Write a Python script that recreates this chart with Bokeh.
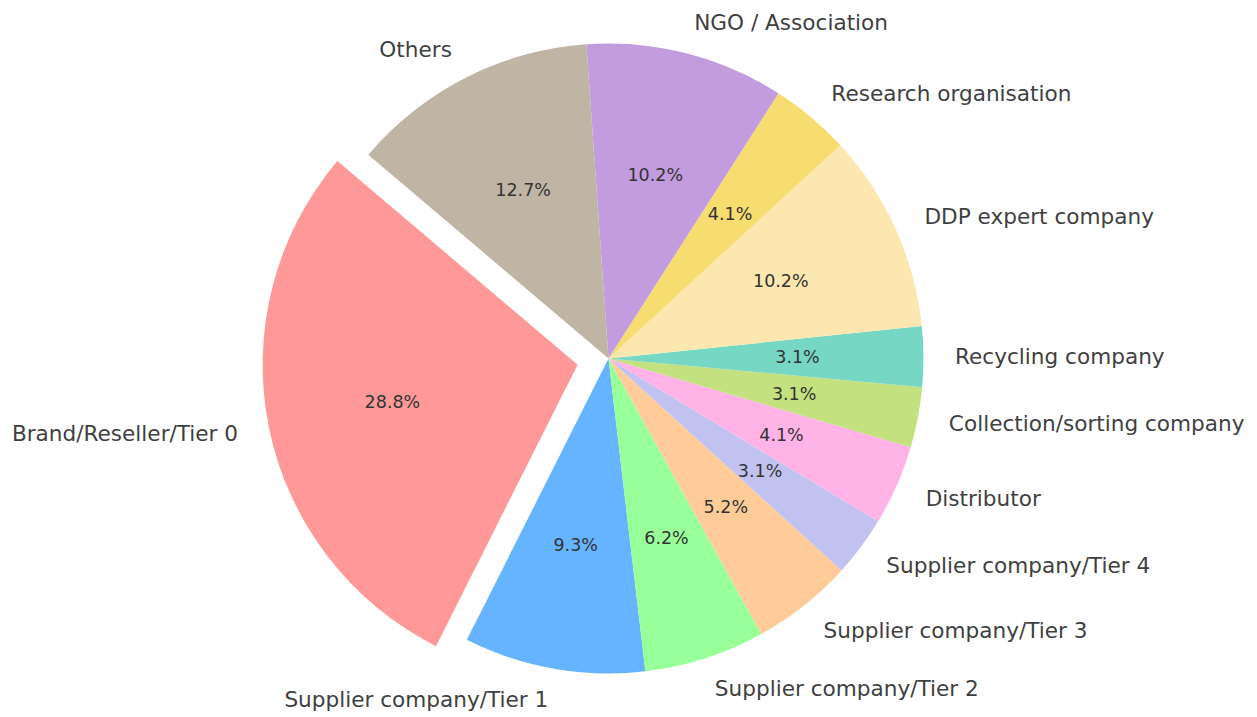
import math
from bokeh.plotting import figure
from bokeh.models import ColumnDataSource, Range1d
from bokeh.core.properties import value
from bokeh.embed import file_html
from bokeh.resources import INLINE

categories = [
    "Brand/Reseller/Tier 0",
    "Supplier company/Tier 1",
    "Supplier company/Tier 2",
    "Supplier company/Tier 3",
    "Supplier company/Tier 4",
    "Distributor",
    "Collection/sorting company",
    "Recycling company",
    "DDP expert company",
    "Research organisation",
    "NGO / Association",
    "Others",
]
shares = [28.8, 9.3, 6.2, 5.2, 3.1, 4.1, 3.1, 3.1, 10.2, 4.1, 10.2, 12.7]
explode = [0.1, 0, 0, 0, 0, 0, 0, 0, 0, 0, 0, 0]
colors = ["#ff9999", "#66b3ff", "#99ff99", "#ffcc99", "#c2c2f0", "#ffb3e6",
          "#c4e17f", "#76d7c4", "#fde7b0", "#f7dc6f", "#c39bdf", "#c0b4a4"]

START_DEG = 139.7
W, H = 1257, 717
SCALE = 315.0   # px per radius unit
CX, CY = 608.0, 358.0  # centre in figure px

total = sum(shares)
cx, cy, sa, ea = [], [], [], []
lx, ly, la, px, py = [], [], [], [], []
ang = math.radians(START_DEG)
for s, e in zip(shares, explode):
    span = 2 * math.pi * s / total
    mid = ang + span / 2
    ox, oy = e * math.cos(mid), e * math.sin(mid)
    cx.append(ox); cy.append(oy)
    sa.append(ang); ea.append(ang + span)
    lx.append(ox + 1.1 * math.cos(mid)); ly.append(oy + 1.1 * math.sin(mid))
    la.append("left" if math.cos(mid) > 0 else "right")
    px.append(ox + 0.6 * math.cos(mid)); py.append(oy + 0.6 * math.sin(mid))
    ang += span

pct_text = [f"{s:.1f}%" for s in shares]

src = ColumnDataSource(dict(x=cx, y=cy, sa=sa, ea=ea, color=colors,
                            lx=lx, ly=ly, la=la, label=categories,
                            px=px, py=py, pct=pct_text))

p = figure(width=W, height=H, output_backend="svg", toolbar_location=None,
           x_axis_location=None, y_axis_location=None, min_border=0,
           x_range=Range1d(-CX / SCALE, (W - CX) / SCALE),
           y_range=Range1d(-(H - CY) / SCALE, CY / SCALE))
p.grid.visible = False
p.outline_line_color = None
p.background_fill_color = "white"

p.wedge(x="x", y="y", radius=1.0, start_angle="sa", end_angle="ea",
        fill_color="color", line_color=None, source=src)

p.text(x="lx", y="ly", text="label", text_align="la", text_baseline="middle",
       text_font=value("DejaVu Sans"), text_font_size="21.6px",
       text_color="#3f3f3f", source=src)
p.text(x="px", y="py", text="pct", text_align="center", text_baseline="middle",
       text_font=value("DejaVu Sans"), text_font_size="17.5px",
       text_color="#333333", source=src)

open("out.html", "w").write(file_html(p, INLINE))
